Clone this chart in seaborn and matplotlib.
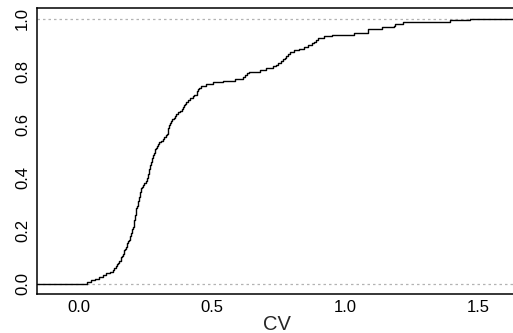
import numpy as np
import pandas as pd
import matplotlib
matplotlib.use("Agg")
import matplotlib.pyplot as plt
import seaborn as sns

# valores de CV (muestra para la ECDF)
cv = [0.030, 0.045, 0.060,
      0.077, 0.090, 0.103, 0.115, 0.128,
      0.133, 0.138, 0.142, 0.147, 0.152,
      0.156, 0.159, 0.162, 0.165, 0.168, 0.171, 0.174, 0.176, 0.179, 0.182, 0.185,
      0.187, 0.190, 0.192, 0.194, 0.196, 0.198, 0.201, 0.203,
      0.205, 0.206, 0.207, 0.208, 0.210, 0.211, 0.212, 0.213, 0.214, 0.215, 0.216,
      0.218, 0.220, 0.221, 0.223, 0.225, 0.226, 0.228, 0.229, 0.231, 0.232, 0.234, 0.236,
      0.241, 0.246, 0.252,
      0.255, 0.257, 0.258, 0.260, 0.262, 0.263, 0.265, 0.266, 0.268, 0.270, 0.271, 0.273,
      0.275, 0.277, 0.279, 0.281, 0.284,
      0.287, 0.290, 0.293, 0.297,
      0.302, 0.308, 0.315, 0.321, 0.328,
      0.331, 0.333, 0.335, 0.336, 0.338, 0.340, 0.342,
      0.347, 0.351, 0.356, 0.360, 0.365,
      0.372, 0.381,
      0.388, 0.392, 0.396, 0.400, 0.404,
      0.411, 0.419, 0.427, 0.434, 0.442,
      0.445, 0.448, 0.452,
      0.458, 0.476, 0.505,
      0.540, 0.585, 0.615,
      0.625, 0.633, 0.641,
      0.680,
      0.705, 0.730,
      0.742, 0.750, 0.758, 0.766,
      0.773, 0.780, 0.787,
      0.795, 0.810, 0.828,
      0.845, 0.860, 0.875,
      0.884, 0.891, 0.898,
      0.920, 0.950,
      1.035,
      1.085, 1.088,
      1.140,
      1.185, 1.188,
      1.219,
      1.395,
      1.470]

xticks = [0.0, 0.5, 1.0, 1.5]
xtick_labels = ["0.0", "0.5", "1.0", "1.5"]
yticks = [0.0, 0.2, 0.4, 0.6, 0.8, 1.0]
ytick_labels = ["0.0", "0.2", "0.4", "0.6", "0.8", "1.0"]

df = pd.DataFrame({"CV": cv})

sns.set_style("white")
plt.rcParams["font.family"] = ["Liberation Sans", "DejaVu Sans"]

fig = plt.figure(figsize=(5.13, 3.33), dpi=100)
ax = fig.add_axes([37 / 513, 39 / 333, 480 / 513, 286 / 333])

xlim = (-0.158, 1.647)
ax.set_xlim(*xlim)
ax.set_ylim(-0.038, 1.04)

# lineas grises de 0 y 1 (estilo R)
ax.axhline(0, color="#b3b3b3", lw=0.9, ls=(0, (2, 2.4)), zorder=1)
ax.axhline(1, color="#b3b3b3", lw=0.9, ls=(0, (2, 2.4)), zorder=1)

sns.ecdfplot(data=df, x="CV", color="black", lw=1.0, ax=ax, zorder=3)
# extender la ECDF a los bordes como hace plot.ecdf
ax.plot([xlim[0], min(cv)], [0, 0], color="black", lw=1.0, zorder=3)
ax.plot([max(cv), xlim[1]], [1, 1], color="black", lw=1.0, zorder=3)

ax.set_xticks(xticks)
ax.set_xticklabels(xtick_labels)
ax.set_yticks(yticks)
ax.set_yticklabels(ytick_labels, rotation=90, va="center")
ax.tick_params(axis="both", direction="out", length=3, width=0.8,
               colors="black", labelsize=12, pad=2)
ax.tick_params(axis="x", pad=1.5)
ax.set_xlabel("CV", fontsize=14.5, labelpad=0)
ax.set_ylabel("")

for s in ax.spines.values():
    s.set_color("black")
    s.set_linewidth(1.1)
    s.set_visible(True)

fig.savefig("out.png", dpi=100)
plt.close(fig)
